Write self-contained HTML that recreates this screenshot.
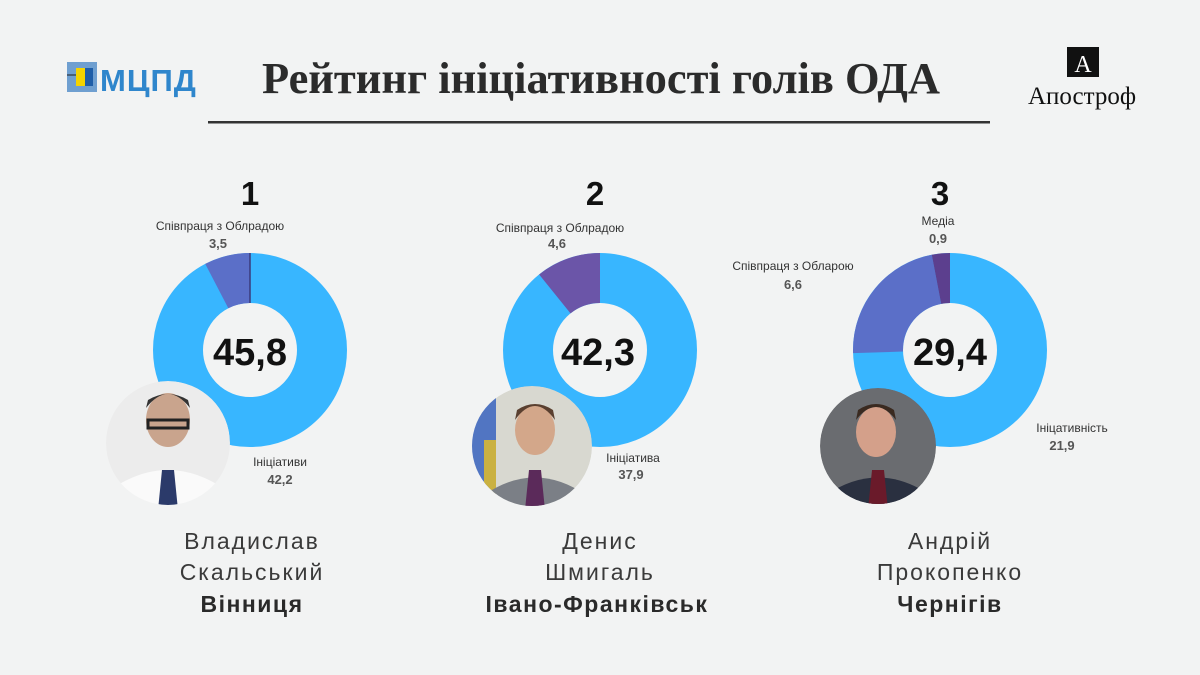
<!DOCTYPE html>
<html><head><meta charset="utf-8"><style>
html,body{margin:0;padding:0;background:#f2f3f3;}
svg{display:block}
text{font-family:"Liberation Sans","DejaVu Sans",sans-serif}
</style></head><body>
<svg width="1200" height="675" viewBox="0 0 1200 675" xmlns="http://www.w3.org/2000/svg">
<defs>
<clipPath id="c1"><circle cx="168" cy="443" r="62"/></clipPath>
<clipPath id="c2"><circle cx="532" cy="446" r="60"/></clipPath>
<clipPath id="c3"><circle cx="878" cy="446" r="58"/></clipPath>
</defs>
<rect width="1200" height="675" fill="#f2f3f3"/>
<rect x="67" y="62" width="30" height="30" fill="#6f9fd0"/>
<rect x="76" y="68" width="9" height="18" fill="#f5d400"/>
<rect x="85" y="68" width="8" height="18" fill="#1f5ea8"/>
<line x1="67" y1="75" x2="76" y2="75" stroke="#222" stroke-width="1"/>
<text x="100" y="91" font-size="31" font-weight="bold" fill="#2f86cc" letter-spacing="1">МЦПД</text>
<text x="601" y="93" text-anchor="middle" font-size="44" font-weight="bold" fill="#2b2b2b" textLength="678" lengthAdjust="spacingAndGlyphs" style="font-family:'Liberation Serif',serif">Рейтинг ініціативності голів ОДА</text>
<rect x="208" y="121" width="782" height="2.5" fill="#333"/>
<rect x="1067" y="47" width="32" height="30" fill="#111"/>
<text x="1083" y="72" text-anchor="middle" font-size="24" fill="#fff" style="font-family:'Liberation Serif',serif">A</text>
<text x="1082" y="104" text-anchor="middle" font-size="25" fill="#111" style="font-family:'Liberation Serif',serif">Апостроф</text>

<g font-size="12" fill="#333">
<text x="250" y="205" text-anchor="middle" font-size="33" font-weight="bold" fill="#111">1</text>
<text x="220" y="230" text-anchor="middle">Співпраця з Облрадою</text>
<text x="218" y="248" text-anchor="middle" font-weight="bold" font-size="13" fill="#555">3,5</text>
<circle cx="250" cy="350" r="72" fill="none" stroke="#38b6ff" stroke-width="50"/>
<circle cx="250" cy="350" r="72" fill="none" stroke="#5b6fc8" stroke-width="50" stroke-dasharray="34.7 1000" stroke-dashoffset="-417.7" transform="rotate(-90 250 350)"/>
<line x1="250" y1="253" x2="250" y2="303" stroke="#3a3a7a" stroke-width="1.5"/>
<text x="250" y="365" text-anchor="middle" font-size="38" font-weight="bold" fill="#111">45,8</text>
<text x="280" y="466" text-anchor="middle">Ініціативи</text>
<text x="280" y="484" text-anchor="middle" font-weight="bold" font-size="13" fill="#555">42,2</text>
<g clip-path="url(#c1)">
<circle cx="168" cy="443" r="62" fill="#ececec"/>
<ellipse cx="168" cy="420" rx="22" ry="27" fill="#c9a48d"/>
<path d="M146 408 Q168 380 190 408 L188 400 Q168 388 148 400Z" fill="#333"/>
<rect x="148" y="420" width="40" height="8" fill="none" stroke="#222" stroke-width="3"/>
<path d="M110 490 Q168 450 226 490 L226 510 L110 510Z" fill="#fafafa"/>
<path d="M162 470 L174 470 L178 510 L158 510Z" fill="#2b3a6a"/>
</g>

<text x="595" y="205" text-anchor="middle" font-size="33" font-weight="bold" fill="#111">2</text>
<text x="560" y="232" text-anchor="middle">Співпраця з Облрадою</text>
<text x="557" y="248" text-anchor="middle" font-weight="bold" font-size="13" fill="#555">4,6</text>
<circle cx="600" cy="350" r="72" fill="none" stroke="#38b6ff" stroke-width="50"/>
<circle cx="600" cy="350" r="72" fill="none" stroke="#6b55a8" stroke-width="50" stroke-dasharray="49 1000" stroke-dashoffset="-403.4" transform="rotate(-90 600 350)"/>
<text x="598" y="365" text-anchor="middle" font-size="38" font-weight="bold" fill="#111">42,3</text>
<text x="633" y="462" text-anchor="middle">Ініціатива</text>
<text x="631" y="479" text-anchor="middle" font-weight="bold" font-size="13" fill="#555">37,9</text>
<g clip-path="url(#c2)">
<circle cx="532" cy="446" r="60" fill="#d8d8d0"/>
<rect x="470" y="390" width="26" height="120" fill="#3a64c0" opacity="0.85"/>
<rect x="484" y="440" width="12" height="60" fill="#e8c020" opacity="0.8"/>
<ellipse cx="535" cy="430" rx="20" ry="25" fill="#d3a78a"/>
<path d="M515 420 Q535 392 555 420 L553 410 Q535 398 517 410Z" fill="#5a4030"/>
<path d="M484 495 Q535 460 586 495 L586 510 L484 510Z" fill="#7b7f86"/>
<path d="M529 470 L541 470 L545 510 L525 510Z" fill="#5b2a5a"/>
</g>

<text x="940" y="205" text-anchor="middle" font-size="33" font-weight="bold" fill="#111">3</text>
<text x="938" y="225" text-anchor="middle">Медіа</text>
<text x="938" y="243" text-anchor="middle" font-weight="bold" font-size="13" fill="#555">0,9</text>
<text x="793" y="270" text-anchor="middle">Співпраця з Обларою</text>
<text x="793" y="289" text-anchor="middle" font-weight="bold" font-size="13" fill="#555">6,6</text>
<circle cx="950" cy="350" r="72" fill="none" stroke="#38b6ff" stroke-width="50"/>
<circle cx="950" cy="350" r="72" fill="none" stroke="#5b6fc8" stroke-width="50" stroke-dasharray="101.8 1000" stroke-dashoffset="-336.8" transform="rotate(-90 950 350)"/>
<circle cx="950" cy="350" r="72" fill="none" stroke="#5c3f8e" stroke-width="50" stroke-dasharray="13.8 1000" stroke-dashoffset="-438.6" transform="rotate(-90 950 350)"/>
<text x="950" y="365" text-anchor="middle" font-size="38" font-weight="bold" fill="#111">29,4</text>
<text x="1072" y="432" text-anchor="middle">Ініцативність</text>
<text x="1062" y="450" text-anchor="middle" font-weight="bold" font-size="13" fill="#555">21,9</text>
<g clip-path="url(#c3)">
<circle cx="878" cy="446" r="58" fill="#6a6c70"/>
<ellipse cx="876" cy="432" rx="20" ry="25" fill="#d4a08a"/>
<path d="M856 420 Q876 394 896 420 L894 410 Q876 398 858 410Z" fill="#3a2a20"/>
<path d="M826 495 Q878 460 930 495 L930 510 L826 510Z" fill="#2a3040"/>
<path d="M872 470 L884 470 L888 510 L868 510Z" fill="#6a1a2a"/>
</g>
</g>

<g font-size="23" fill="#3a3a3a" text-anchor="middle" letter-spacing="2">
<text x="252" y="549">Владислав</text>
<text x="252" y="580">Скальський</text>
<text x="252" y="612" font-weight="bold" fill="#2a2a2a" letter-spacing="1.5">Вінниця</text>
<text x="600" y="549">Денис</text>
<text x="600" y="580">Шмигаль</text>
<text x="597" y="612" font-weight="bold" fill="#2a2a2a" letter-spacing="1.5">Івано-Франківськ</text>
<text x="950" y="549">Андрій</text>
<text x="950" y="580">Прокопенко</text>
<text x="950" y="612" font-weight="bold" fill="#2a2a2a" letter-spacing="1.5">Чернігів</text>
</g>
</svg>
</body></html>
